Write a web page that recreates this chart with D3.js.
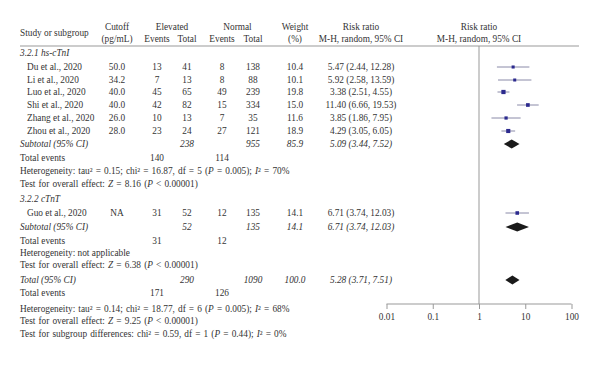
<!DOCTYPE html>
<html>
<head>
<meta charset="utf-8">
<script src="https://cdn.jsdelivr.net/npm/d3@7"></script>
<style>
  html, body { margin: 0; padding: 0; background: #fff; }
  svg { display: block; }
</style>
</head>
<body>
<div id="chart"></div>
<script>
// study rows
const studies = ["Du et al., 2020", "Li et al., 2020", "Luo et al., 2020", "Shi et al., 2020", "Zhang et al., 2020", "Zhou et al., 2020", "Guo et al., 2020"];
const cutoffs = ["50.0", "34.2", "40.0", "40.0", "26.0", "28.0", "NA"];
const elevEvents = [13, 7, 45, 42, 10, 23, 31];
const elevTotal = [41, 13, 65, 82, 13, 24, 52];
const normEvents = [8, 8, 49, 15, 7, 27, 12];
const normTotal = [138, 88, 239, 334, 35, 121, 135];
const weights = [10.4, 10.1, 19.8, 15.0, 11.6, 18.9, 14.1];
const rr = [5.47, 5.92, 3.38, 11.40, 3.85, 4.29, 6.71];
const rrLo = [2.44, 2.58, 2.51, 6.66, 1.86, 3.05, 3.74];
const rrHi = [12.28, 13.59, 4.55, 19.53, 7.95, 6.05, 12.03];

// pooled estimates: subgroup 1, subgroup 2, overall
const pooledRR = [5.09, 6.71, 5.28];
const pooledLo = [3.44, 3.74, 3.71];
const pooledHi = [7.52, 12.03, 7.51];
const pooledTotals = [[238, 955, "85.9"], [52, 135, "14.1"], [290, 1090, "100.0"]];
const pooledEvents = [[140, 114], [31, 12], [171, 126]];

const axisTicks = [0.01, 0.1, 1, 10, 100];
const tickLabels = ["0.01", "0.1", "1", "10", "100"];

const width = 600, height = 367;
const fs = 9.3;
const font = "'Liberation Serif', 'DejaVu Serif', serif";
const textColor = "#333";

const svg = d3.select("#chart").append("svg")
    .attr("width", width)
    .attr("height", height)
    .attr("font-family", font)
    .attr("font-size", fs)
    .attr("fill", textColor);

const x = d3.scaleLog().domain([0.01, 100]).range([386.5, 571.5]);

// column centres
const col = { cutoff: 117, eEv: 157, eTot: 187, nEv: 222, nTot: 253, w: 295, ci: 361 };

function txt(xp, yp, s, anchor, italic) {
    return svg.append("text")
        .attr("x", xp).attr("y", yp).attr("dy", "0.35em")
        .attr("text-anchor", anchor || "start")
        .attr("font-style", italic ? "italic" : null)
        .text(s);
}

// rich text with italic bits: parts = [[string, italic], ...]
function rich(xp, yp, parts) {
    const t = svg.append("text").attr("x", xp).attr("y", yp).attr("dy", "0.35em")
        .attr("word-spacing", 0.8);
    parts.forEach(([s, it]) => t.append("tspan").attr("font-style", it ? "italic" : null).text(s));
    return t;
}

// header
txt(20, 33, "Study or subgroup");
txt(col.cutoff, 27, "Cutoff", "middle");
txt(col.cutoff, 39, "(pg/mL)", "middle");
txt((col.eEv + col.eTot) / 2, 27, "Elevated", "middle");
txt(col.eEv, 39, "Events", "middle");
txt(col.eTot, 39, "Total", "middle");
txt((col.nEv + col.nTot) / 2, 27, "Normal", "middle");
txt(col.nEv, 39, "Events", "middle");
txt(col.nTot, 39, "Total", "middle");
txt(col.w, 27, "Weight", "middle");
txt(col.w, 39, "(%)", "middle");
txt(col.ci, 27, "Risk ratio", "middle");
txt(col.ci, 39, "M-H, random, 95% CI", "middle");
txt(x(1), 27, "Risk ratio", "middle");
txt(x(1), 39, "M-H, random, 95% CI", "middle");

svg.append("line")
    .attr("x1", 20).attr("x2", 579).attr("y1", 46).attr("y2", 46)
    .attr("stroke", "#999").attr("stroke-width", 1);

// row y positions
const studyY = [67, 80, 92, 105, 118, 131, 213];
const pooledY = [144, 227, 280];
const eventsY = [158, 241, 293];

// vertical null line
svg.append("line")
    .attr("x1", x(1)).attr("x2", x(1)).attr("y1", 46).attr("y2", 304)
    .attr("stroke", "#999").attr("stroke-width", 1);

// section labels
txt(20, 53, "3.2.1 hs-cTnI", "start", true);
txt(20, 199, "3.2.2 cTnT", "start", true);

// study rows
studies.forEach((s, i) => {
    const y = studyY[i];
    txt(27, y, s);
    txt(col.cutoff, y, cutoffs[i], "middle");
    txt(col.eEv, y, elevEvents[i], "middle");
    txt(col.eTot, y, elevTotal[i], "middle");
    txt(col.nEv, y, normEvents[i], "middle");
    txt(col.nTot, y, normTotal[i], "middle");
    txt(col.w, y, weights[i].toFixed(1), "middle");
    txt(col.ci, y, `${rr[i].toFixed(2)} (${rrLo[i].toFixed(2)}, ${rrHi[i].toFixed(2)})`, "middle");

    svg.append("line")
        .attr("x1", x(rrLo[i])).attr("x2", x(rrHi[i]))
        .attr("y1", y).attr("y2", y)
        .attr("stroke", "#8a8aa8").attr("stroke-width", 1);
    const sz = Math.sqrt(weights[i]) * 0.95;
    svg.append("rect")
        .attr("x", x(rr[i]) - sz / 2).attr("y", y - sz / 2)
        .attr("width", sz).attr("height", sz)
        .attr("fill", "#2c2a8e");
});

// pooled rows
const pooledLabels = ["Subtotal (95% CI)", "Subtotal (95% CI)", "Total (95% CI)"];
pooledLabels.forEach((lab, i) => {
    const y = pooledY[i];
    txt(20, y, lab, "start", true);
    txt(col.eTot, y, pooledTotals[i][0], "middle", true);
    txt(col.nTot, y, pooledTotals[i][1], "middle", true);
    txt(col.w, y, pooledTotals[i][2], "middle", true);
    txt(col.ci, y, `${pooledRR[i].toFixed(2)} (${pooledLo[i].toFixed(2)}, ${pooledHi[i].toFixed(2)})`, "middle", true);

    const h = 4.6;
    svg.append("path")
        .attr("d", `M${x(pooledLo[i])},${y} L${x(pooledRR[i])},${y - h} L${x(pooledHi[i])},${y} L${x(pooledRR[i])},${y + h} Z`)
        .attr("fill", "#1a1a1a");

    txt(20, eventsY[i], "Total events");
    txt(col.eEv, eventsY[i], pooledEvents[i][0], "middle");
    txt(col.nEv, eventsY[i], pooledEvents[i][1], "middle");
});

// heterogeneity / tests
rich(20, 171, [["Heterogeneity: tau² = 0.15; chi² = 16.87, df = 5 (", false], ["P", true], [" = 0.005); ", false], ["I", true], ["² = 70%", false]]);
rich(20, 184, [["Test for overall effect: ", false], ["Z", true], [" = 8.16 (", false], ["P", true], [" < 0.00001)", false]]);
txt(20, 253, "Heterogeneity: not applicable");
rich(20, 265, [["Test for overall effect: ", false], ["Z", true], [" = 6.38 (", false], ["P", true], [" < 0.00001)", false]]);
rich(20, 309, [["Heterogeneity: tau² = 0.14; chi² = 18.77, df = 6 (", false], ["P", true], [" = 0.005); ", false], ["I", true], ["² = 68%", false]]);
rich(20, 321, [["Test for overall effect: ", false], ["Z", true], [" = 9.25 (", false], ["P", true], [" < 0.00001)", false]]);
rich(20, 334, [["Test for subgroup differences: chi² = 0.59, df = 1 (", false], ["P", true], [" = 0.44); ", false], ["I", true], ["² = 0%", false]]);

// axis
const axis = d3.axisBottom(x)
    .tickValues(axisTicks)
    .tickFormat((d, i) => tickLabels[i])
    .tickSize(5)
    .tickPadding(4);

const gAxis = svg.append("g")
    .attr("transform", "translate(0,304)")
    .call(axis)
    .attr("font-family", font)
    .attr("font-size", fs);
gAxis.select(".domain").attr("stroke", "#999").attr("d", `M${x(0.01)},0H${x(100)}`);
gAxis.selectAll(".tick line").attr("stroke", "#999");
gAxis.selectAll(".tick text").attr("fill", textColor);
</script>
</body>
</html>
